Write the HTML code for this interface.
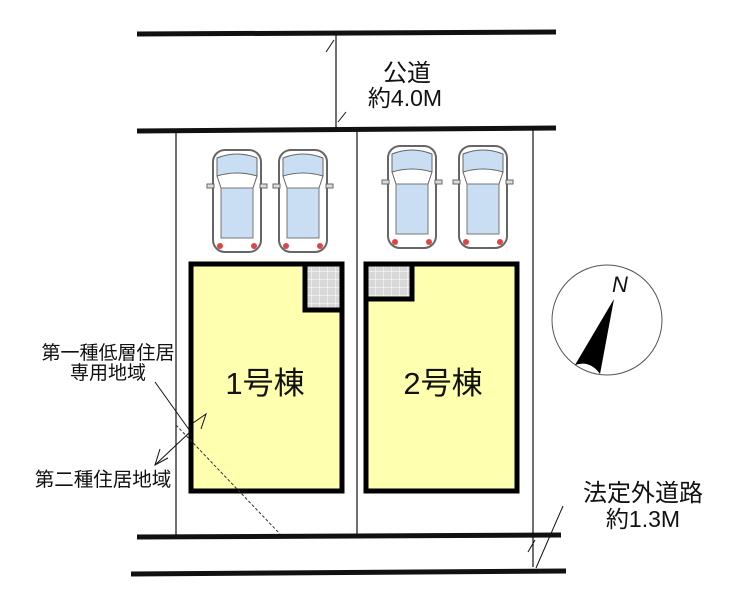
<!DOCTYPE html>
<html><head><meta charset="utf-8"><style>
html,body{margin:0;padding:0;background:#fff;width:740px;height:605px;overflow:hidden}
text{font-family:"Liberation Sans","Noto Sans CJK JP",sans-serif;fill:#111}
</style></head><body>
<svg width="740" height="605" viewBox="0 0 740 605" xmlns="http://www.w3.org/2000/svg">
<defs>
<g id="car">
 <rect x="-24" y="0" width="48" height="102" rx="12" fill="#fff" stroke="#666" stroke-width="2"/>
 <path d="M-20 8 Q0 0 20 8 L20 26 Q0 20 -20 26Z" fill="#c9def2" stroke="#666"/>
 <path d="M-16 38 L16 38 L16 88 L-16 88Z" fill="#c9def2" stroke="#777"/>
 <path d="M-20 26 L-16 38 M20 26 L16 38" stroke="#666" fill="none"/>
 <rect x="-30" y="34" width="7" height="4" fill="#ddd" stroke="#666"/>
 <rect x="23" y="34" width="7" height="4" fill="#ddd" stroke="#666"/>
 <circle cx="-17" cy="96" r="3" fill="#d44"/><circle cx="17" cy="96" r="3" fill="#d44"/>
</g>
<pattern id="grid" width="8" height="8" patternUnits="userSpaceOnUse"><rect width="8" height="8" fill="#d8d8d8"/><path d="M8 0V8H0" stroke="#fff" stroke-width="1" fill="none"/></pattern>
</defs>
<line x1="137" y1="34" x2="556" y2="32" stroke="#111" stroke-width="5"/>
<line x1="137" y1="131" x2="556" y2="128" stroke="#111" stroke-width="5"/>
<line x1="336" y1="34" x2="336" y2="129" stroke="#111" stroke-width="1.2"/>
<line x1="326" y1="52" x2="334" y2="40" stroke="#111" stroke-width="1"/>
<line x1="338" y1="122" x2="346" y2="112" stroke="#111" stroke-width="1"/>
<text x="407" y="81" font-size="24" text-anchor="middle">公道</text>
<text x="405" y="106" font-size="23" text-anchor="middle">約4.0M</text>
<line x1="176" y1="131" x2="176" y2="535" stroke="#111" stroke-width="1.2"/>
<line x1="357" y1="131" x2="357" y2="535" stroke="#111" stroke-width="1.2"/>
<line x1="533" y1="129" x2="533" y2="567" stroke="#111" stroke-width="1.2"/>
<line x1="137" y1="537" x2="561" y2="535" stroke="#111" stroke-width="5"/>
<line x1="131" y1="574" x2="566" y2="571" stroke="#111" stroke-width="5"/>
<line x1="528" y1="552" x2="535" y2="540" stroke="#111" stroke-width="1"/>
<line x1="536" y1="568" x2="563" y2="506" stroke="#111" stroke-width="1"/>
<use href="#car" x="237" y="150"/>
<use href="#car" x="303" y="150"/>
<use href="#car" x="412" y="146"/>
<use href="#car" x="483" y="146"/>
<rect x="191" y="264" width="151" height="227" fill="#ffffb0" stroke="#000" stroke-width="5"/>
<rect x="305" y="264" width="37" height="46" fill="url(#grid)" stroke="#000" stroke-width="5"/>
<rect x="366" y="264" width="151" height="227" fill="#ffffb0" stroke="#000" stroke-width="5"/>
<rect x="366" y="264" width="46" height="35" fill="url(#grid)" stroke="#000" stroke-width="5"/>
<text x="265" y="394" font-size="31" text-anchor="middle">1号棟</text>
<text x="443" y="394" font-size="31" text-anchor="middle">2号棟</text>
<line x1="176" y1="425" x2="280" y2="534" stroke="#333" stroke-width="1" stroke-dasharray="3,2"/>
<line x1="155" y1="382" x2="190" y2="431" stroke="#111" stroke-width="1"/>
<line x1="190" y1="432" x2="155" y2="465" stroke="#111" stroke-width="1"/>
<path d="M201 429 L206 414 L193 423" stroke="#111" fill="none" stroke-width="1"/>
<path d="M160 449 L155 465 L168 458" stroke="#111" fill="none" stroke-width="1"/>
<text x="108" y="359" font-size="19" text-anchor="middle">第一種低層住居</text>
<text x="108" y="379" font-size="19" text-anchor="middle">専用地域</text>
<text x="103" y="486" font-size="19.5" text-anchor="middle">第二種住居地域</text>
<circle cx="607" cy="320" r="55" fill="#fff" stroke="#555" stroke-width="1"/>
<path d="M614 299 L600 374 Q590 360 575 365Z" fill="#000"/>
<text x="620" y="292" font-size="22" font-style="italic" font-family="Liberation Serif,serif" text-anchor="middle">N</text>
<text x="643" y="501" font-size="24" text-anchor="middle">法定外道路</text>
<text x="643" y="527" font-size="23" text-anchor="middle">約1.3M</text>
</svg>
</body></html>
